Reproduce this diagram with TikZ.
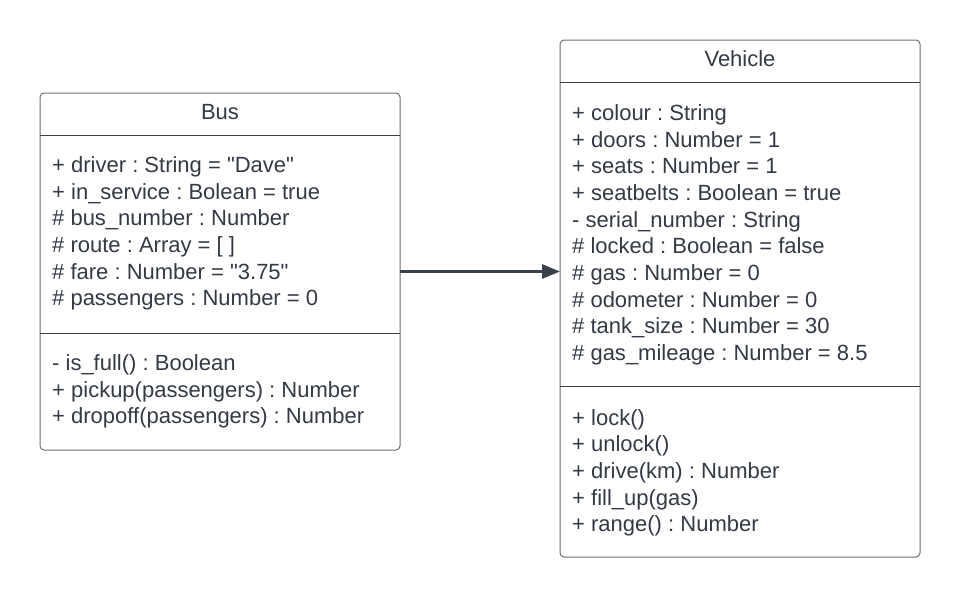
\documentclass[tikz,border=0pt]{standalone}
\usepackage{fontspec}
\setmainfont{Liberation Sans}
\usetikzlibrary{arrows.meta}
\definecolor{txt}{HTML}{333A44}
\definecolor{edge}{HTML}{6B6F76}
\definecolor{dark}{HTML}{3A414A}
\frenchspacing
\begin{document}
\begin{tikzpicture}[x=1pt,y=-1pt,
  umlbox/.style={draw=edge, line width=1pt, rounded corners=4pt, inner sep=0pt, outer sep=0pt, anchor=north west},
  lbl/.style={text=txt, inner sep=0pt, anchor=base west, font=\fontsize{22}{26}\selectfont},
  ttl/.style={text=txt, inner sep=0pt, anchor=base, font=\fontsize{22}{26}\selectfont},
  sep/.style={draw=dark, line width=1pt},
  assoc/.style={draw=dark, line width=3pt, -{Triangle[length=18pt,width=14pt]}}]
\useasboundingbox (0,0) rectangle (960,598);
% Bus class
\node[umlbox, minimum width=360pt, minimum height=357pt] (bus) at (40,93) {};
\draw[sep] ([yshift=-42pt]bus.north west) -- ([yshift=-42pt]bus.north east);
\draw[sep] ([yshift=-240pt]bus.north west) -- ([yshift=-240pt]bus.north east);
\node[ttl] (bust) at (220,119.5) {Bus};
\foreach \t [count=\i from 0] in {{+ driver : String = \textquotedbl Dave\textquotedbl},{+ in\_service : Bolean = true},{\# bus\_number : Number},{\# route : Array = [ ]},{\# fare : Number = \textquotedbl 3.75\textquotedbl},{\# passengers : Number = 0}}
  \node[lbl] (busa\i) at (52,172.5+26.67*\i) {\frenchspacing\t};
\foreach \t [count=\i from 0] in {{- is\_full() : Boolean},{+ pickup(passengers) : Number},{+ dropoff(passengers) : Number}}
  \node[lbl] (busm\i) at (52,370.5+26.67*\i) {\frenchspacing\t};
% Vehicle class
\node[umlbox, minimum width=360pt, minimum height=517pt] (veh) at (560,40) {};
\draw[sep] ([yshift=-42pt]veh.north west) -- ([yshift=-42pt]veh.north east);
\draw[sep] ([yshift=-346pt]veh.north west) -- ([yshift=-346pt]veh.north east);
\node[ttl] (veht) at (740,66.5) {Vehicle};
\foreach \t [count=\i from 0] in {{+ colour : String},{+ doors : Number = 1},{+ seats : Number = 1},{+ seatbelts : Boolean = true},{- serial\_number : String},{\# locked : Boolean = false},{\# gas : Number = 0},{\# odometer : Number = 0},{\# tank\_size : Number = 30},{\# gas\_mileage : Number = 8.5}}
  \node[lbl] (veha\i) at (572,120.5+26.67*\i) {\frenchspacing\t};
\foreach \t [count=\i from 0] in {{+ lock()},{+ unlock()},{+ drive(km) : Number},{+ fill\_up(gas)},{+ range() : Number}}
  \node[lbl] (vehm\i) at (572,425+26.67*\i) {\frenchspacing\t};
% association
\draw[assoc] (bus.east) -- (bus.east -| veh.west);
\end{tikzpicture}
\end{document}
